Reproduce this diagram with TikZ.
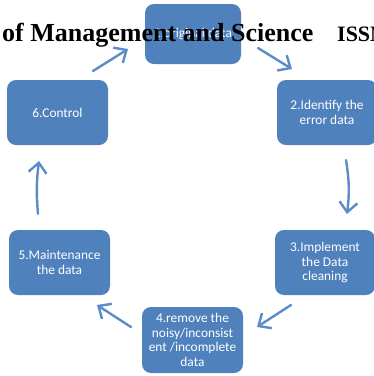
\documentclass[tikz,border=0pt]{standalone}
\usepackage{fontspec}
\setmainfont{Liberation Serif}
\newfontfamily\boxfont{Carlito}
\usetikzlibrary{arrows.meta}
\definecolor{stepblue}{HTML}{4F81BD}
\definecolor{flowblue}{HTML}{5B8CC8}
\tikzset{
  stepbox/.style={fill=stepblue, rounded corners=9pt, text=white, align=center,
    font=\boxfont\fontsize{13.4}{14.7}\selectfont, inner sep=0pt},
  flow/.style={draw=flowblue, line width=2.4pt, line cap=round,
    -{Straight Barb[length=10pt,width=18pt,line width=2.4pt]}},
}
\begin{document}
\begin{tikzpicture}[x=1pt,y=-1pt]
\useasboundingbox (0,0) rectangle (374,376);
% process steps
\node[stepbox, minimum width=96pt, minimum height=60pt] (s1) at (193,34) {1.original data};
\node[stepbox, minimum width=100pt, minimum height=65pt] (s2) at (327,112.5) {2.Identify the\\error data};
\node[stepbox, minimum width=100pt, minimum height=65pt] (s3) at (325,262.5) {3.Implement\\the Data\\cleaning};
\node[stepbox, minimum width=101pt, minimum height=66pt] (s4) at (192.5,340) {4.remove the\\noisy/inconsist\\ent /incomplete\\data};
\node[stepbox, minimum width=101pt, minimum height=65pt] (s5) at (59.5,262.5) {5.Maintenance\\the data};
\node[stepbox, minimum width=101pt, minimum height=65pt] (s6) at (57.5,112.5) {6.Control};
% arrow end points
\coordinate (a12) at (258,48);  \coordinate (b12) at (292,69);
\coordinate (a23) at (346,160); \coordinate (b23) at (347,214);
\coordinate (a34) at (291,305); \coordinate (b34) at (257,327);
\coordinate (a45) at (131,327); \coordinate (b45) at (97,305);
\coordinate (a56) at (38,214);  \coordinate (b56) at (39,161);
\coordinate (a61) at (93,71);   \coordinate (b61) at (128,49);
\draw[flow] (a12) -- (b12);
\draw[flow] (a23) to[bend left=8] (b23);
\draw[flow] (a34) -- (b34);
\draw[flow] (a45) -- (b45);
\draw[flow] (a56) to[bend left=6] (b56);
\draw[flow] (a61) -- (b61);
% running header line
\node[anchor=base west, inner sep=0pt, font=\bfseries\fontsize{26}{30}\selectfont] (hdr) at (2,41) {of Management and Science};
\node[anchor=base west, inner sep=0pt, font=\bfseries\fontsize{22}{26}\selectfont] (issn) at (337,41) {ISSN};
\end{tikzpicture}
\end{document}
